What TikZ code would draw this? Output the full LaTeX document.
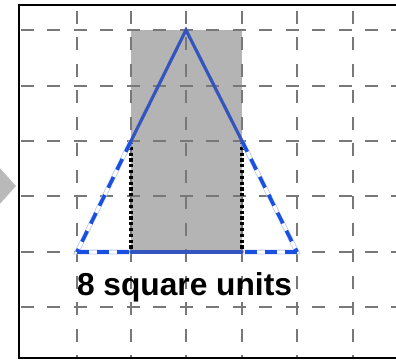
\documentclass[tikz,border=0pt]{standalone}
\usepackage{fontspec}
\setmainfont{Liberation Sans}
\begin{document}
\begin{tikzpicture}[x=1pt,y=-1pt,
  gridline/.style={draw={rgb,255:red,120;green,120;blue,120}, line width=1.7pt, dash pattern=on 13pt off 13.46pt},
  solidblue/.style={draw={rgb,255:red,52;green,85;blue,190}, line width=3.2pt, line cap=round},
  dashblue/.style={draw={rgb,255:red,25;green,80;blue,225}, line width=3.6pt, dash pattern=on 12pt off 8pt},
  ghost/.style={draw={rgb,255:red,185;green,200;blue,240}, line width=0.8pt, double=white, double distance=3pt},
  dotblack/.style={draw=black, line width=3.6pt, dash pattern=on 3.2pt off 2.6pt},
  shade/.style={fill={rgb,255:red,180;green,180;blue,180}},
  pointer/.style={fill={rgb,255:red,185;green,185;blue,185}},
  frameline/.style={draw=black, line width=2.4pt}]
\useasboundingbox (0,0) rectangle (396,360);
\clip (0,0) rectangle (396,360);
% pointer arrow on the left
\fill[pointer] (-2,166) -- (16,186) -- (-2,206) -- cycle;
% frame
\draw[frameline] (19,5) rectangle (420,358);
% shaded rectangle
\fill[shade] (131,30) rectangle (242,252);
% grid
\foreach \gx in {77,131,186,242,297,353} {
  \draw[gridline] (\gx,11) -- (\gx,357);
}
\foreach \gy in {30,86,141,196,252,307} {
  \draw[gridline] (21,\gy) -- (396,\gy);
}
% points
\coordinate (apex) at (186,30);
\coordinate (ml) at (131,141);
\coordinate (mr) at (242,141);
\coordinate (bl) at (77,252);
\coordinate (bml) at (131,252);
\coordinate (bmr) at (242,252);
\coordinate (br) at (297,252);
% dotted verticals
\draw[dotblack] (ml) -- (bml);
\draw[dotblack] (mr) -- (bmr);
% ghost outlines of dashed parts
\draw[ghost] (ml) -- (bl) -- (bml);
\draw[ghost] (mr) -- (br) -- (bmr);
% dashed parts
\draw[dashblue] (ml) -- (bl);
\draw[dashblue] (bl) -- (bml);
\draw[dashblue] (mr) -- (br);
\draw[dashblue] (br) -- (bmr);
% solid parts
\draw[solidblue] (ml) -- (apex) -- (mr);
\draw[solidblue] (bml) -- (bmr);
% label
\node[anchor=base, inner sep=0pt, font=\fontsize{31.7}{36}\selectfont\bfseries] (lbl) at (184.5,295) {8 square units};
\end{tikzpicture}
\end{document}
